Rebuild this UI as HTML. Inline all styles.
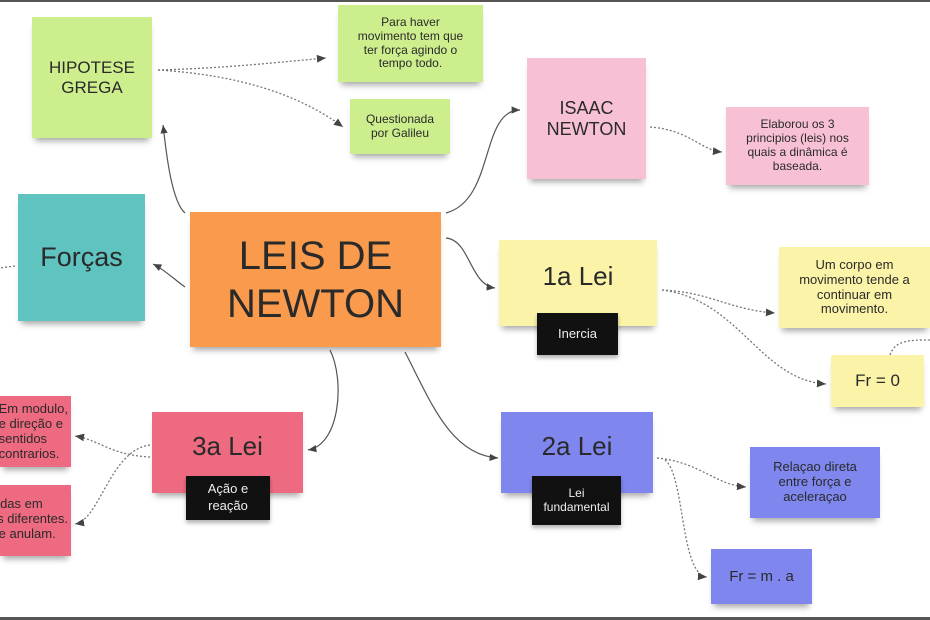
<!DOCTYPE html>
<html><head><meta charset="utf-8"><style>
html,body{margin:0;padding:0}
body{width:930px;height:620px;position:relative;background:#fff;overflow:hidden;font-family:"Liberation Sans","DejaVu Sans",sans-serif;color:#2a2a2a}
.n{position:absolute;display:flex;align-items:center;justify-content:center;text-align:center;box-shadow:0 6px 6px -3px rgba(0,0,0,.35);box-sizing:border-box;line-height:1.15}
.b{position:absolute;background:#111;color:#eee;display:flex;align-items:center;justify-content:center;text-align:center;font-size:13px;line-height:1.3;box-shadow:0 3px 4px rgba(0,0,0,.3)}
.g{background:#cdee8c}.p{background:#f8c0d5}.y{background:#fbf4a8}.r{background:#ee6a80}.bl{background:#7f87ef}
svg{position:absolute;left:0;top:0}
.cl{overflow:hidden}
.cl span{position:absolute;right:3px;white-space:nowrap;text-align:left;font-size:13px;line-height:1.15}
</style></head><body>
<div style="position:absolute;left:0;top:0;width:930px;height:2px;background:#555"></div>
<div style="position:absolute;left:0;top:617px;width:930px;height:3px;background:#555"></div>
<svg width="930" height="620" fill="none">
<defs><marker id="a" markerWidth="8" markerHeight="8" refX="7" refY="4" orient="auto"><path d="M0,1 L7,4 L0,7 z" fill="#444"/></marker></defs>
<g stroke="#555" stroke-width="1.2">
<path d="M185,213 C170,200 165,140 163,125" marker-end="url(#a)"/>
<path d="M446,213 C495,200 480,110 520,110" marker-end="url(#a)"/>
<path d="M185,287 C175,280 165,270 153,264" marker-end="url(#a)"/>
<path d="M446,238 C470,240 470,285 495,288" marker-end="url(#a)"/>
<path d="M330,350 C345,380 340,445 308,450" marker-end="url(#a)"/>
<path d="M405,352 C430,400 450,455 498,458" marker-end="url(#a)"/>
</g>
<g stroke="#777" stroke-width="1.3" stroke-dasharray="2,2">
<path d="M158,70 C230,68 280,62 326,58" marker-end="url(#a)"/>
<path d="M158,70 C240,75 300,95 343,127" marker-end="url(#a)"/>
<path d="M650,127 C690,130 700,150 722,152" marker-end="url(#a)"/>
<path d="M662,290 C710,292 730,310 775,313" marker-end="url(#a)"/>
<path d="M662,290 C740,300 760,380 826,384" marker-end="url(#a)"/>
<path d="M890,355 C895,340 910,340 930,340"/>
<path d="M150,457 C110,455 100,440 75,436" marker-end="url(#a)"/>
<path d="M150,445 C110,450 100,520 75,524" marker-end="url(#a)"/>
<path d="M657,458 C700,462 715,485 746,487" marker-end="url(#a)"/>
<path d="M665,460 C685,475 680,575 707,577" marker-end="url(#a)"/>
<path d="M15,266 L0,268"/>
</g>
</svg>
<div class="n g" style="left:32px;top:17px;width:120px;height:121px;font-size:17px">HIPOTESE<br>GREGA</div>
<div class="n g" style="left:338px;top:5px;width:145px;height:77px;font-size:12px">Para haver<br>movimento tem que<br>ter força agindo o<br>tempo todo.</div>
<div class="n g" style="left:350px;top:99px;width:100px;height:55px;font-size:12px">Questionada<br>por Galileu</div>
<div class="n p" style="left:527px;top:58px;width:119px;height:121px;font-size:18px">ISAAC<br>NEWTON</div>
<div class="n p" style="left:726px;top:107px;width:143px;height:78px;font-size:12px">Elaborou os 3<br>principios (leis) nos<br>quais a dinâmica é<br>baseada.</div>
<div class="n" style="left:18px;top:194px;width:127px;height:127px;background:#5fc4c0;font-size:27px">Forças</div>
<div class="n" style="left:190px;top:212px;width:251px;height:135px;background:#f99a4c;font-size:40px;line-height:1.2">LEIS DE<br>NEWTON</div>
<div class="n y" style="left:499px;top:240px;width:158px;height:86px;font-size:26px;padding-bottom:12px">1a Lei</div>
<div class="b" style="left:537px;top:313px;width:81px;height:42px">Inercia</div>
<div class="n y" style="left:779px;top:247px;width:151px;height:81px;font-size:13px">Um corpo em<br>movimento tende a<br>continuar em<br>movimento.</div>
<div class="n y" style="left:831px;top:355px;width:93px;height:52px;font-size:17px">Fr = 0</div>
<div class="n r cl" style="left:0;top:396px;width:71px;height:71px"><span style="top:6px">Em modulo,<br>e direção e<br>sentidos<br>contrarios.</span></div>
<div class="n r cl" style="left:0;top:485px;width:71px;height:71px"><span style="top:12px">Aplicadas em<br>corpos diferentes.<br>Não se anulam.</span></div>
<div class="n r" style="left:152px;top:412px;width:151px;height:81px;font-size:26px;padding-bottom:12px">3a Lei</div>
<div class="b" style="left:186px;top:476px;width:84px;height:44px">Ação e<br>reação</div>
<div class="n bl" style="left:501px;top:412px;width:152px;height:81px;font-size:26px;padding-bottom:12px">2a Lei</div>
<div class="b" style="left:532px;top:476px;width:89px;height:49px;font-size:12px;line-height:1.1">Lei<br>fundamental</div>
<div class="n bl" style="left:750px;top:447px;width:130px;height:71px;font-size:13px">Relaçao direta<br>entre força e<br>aceleraçao</div>
<div class="n bl" style="left:711px;top:549px;width:101px;height:55px;font-size:15px">Fr = m . a</div>
</body></html>
